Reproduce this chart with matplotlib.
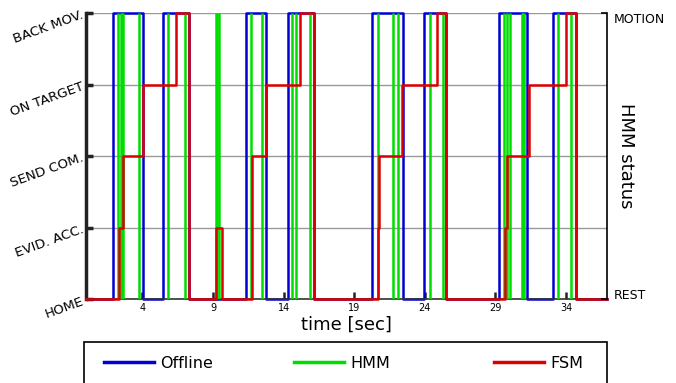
import matplotlib
matplotlib.use("Agg")
import matplotlib.pyplot as plt
from matplotlib.patches import Rectangle

# ---- data ----
state_labels = ["HOME", "EVID. ACC.", "SEND COM.", "ON TARGET", "BACK MOV."]
hmm_labels = ["REST", "MOTION"]
xticks = [4, 9, 14, 19, 24, 29, 34]
series_names = ["Offline", "HMM", "FSM"]

# Offline: motion intervals (start, end) in seconds
offline_on = [1.9, 5.44, 11.35, 14.31, 20.27, 23.94, 29.27, 33.06]
offline_off = [4.02, 7.28, 12.77, 16.14, 22.44, 25.49, 31.21, 34.69]

# HMM: instants of detected switches (drawn as vertical strokes)
hmm_t = [2.25, 2.45, 2.55, 2.65, 3.72, 5.8, 6.98, 9.2, 9.3, 9.4,
         11.71, 12.47, 14.62, 14.9, 15.84, 20.65, 21.75, 22.13,
         24.35, 25.25, 29.63, 29.8, 30.03, 30.85, 30.95, 31.05,
         33.45, 34.35]

# FSM: step changes (time, new level)
fsm_t = [0.0, 2.32, 2.65, 4.02, 6.35, 7.28, 9.22, 9.65, 11.75, 12.74,
         15.18, 16.14, 20.69, 20.76, 22.35, 24.85, 25.49, 29.67, 29.79,
         31.38, 34.0, 34.69, 36.9]
fsm_lvl = [0, 1, 2, 3, 4, 0, 1, 0, 2, 3,
           4, 0, 1, 2, 3, 4, 0, 1, 2,
           3, 4, 0, 0]

x_end = 36.9

# ---- figure ----
W, H = 676, 383
fig = plt.figure(figsize=(W / 100, H / 100), dpi=100)
ax = fig.add_axes([86 / W, 1 - 299 / H, (607 - 86) / W, (299 - 13) / H])

blue = "#0000d2"
green = "#00dd00"
red = "#dd0000"

# build offline step series
bx, by = [0.0], [0]
for a, b in zip(offline_on, offline_off):
    bx += [a, b]
    by += [4, 0]
bx.append(x_end)
by.append(0)

for lvl in range(5):
    ax.axhline(lvl, color="#999999", lw=1.0, zorder=0)

ln_off, = ax.plot(bx, by, drawstyle="steps-post", color=blue, lw=1.8,
                  clip_on=False, zorder=2)
ax.vlines(hmm_t, 0, 4, color=green, lw=1.8, zorder=3)
ln_hmm, = ax.plot([], [], color=green, lw=1.8)
ln_fsm, = ax.plot(fsm_t, fsm_lvl, drawstyle="steps-post", color=red, lw=1.8,
                  clip_on=False, zorder=4)

ax.set_xlim(0, x_end)
ax.set_ylim(0, 4)
ax.set_xticks(xticks)
ax.set_xticklabels([str(t) for t in xticks], fontsize=7)
ax.tick_params(axis="x", direction="in", length=5, width=1.8, color="#222222",
               pad=3)
ax.set_yticks(range(5))
ax.set_yticklabels(state_labels, rotation=20, fontsize=9.6, ha="right",
                   va="center_baseline", rotation_mode="anchor")
ax.tick_params(axis="y", direction="in", length=5, width=2.5, color="#222222",
               pad=2.5)

ax.spines["top"].set_visible(False)
ax.spines["right"].set_visible(False)
ax.spines["left"].set_linewidth(2.5)
ax.spines["left"].set_color("#222222")
ax.spines["bottom"].set_linewidth(1.2)
ax.spines["bottom"].set_color("#333333")

ax.set_xlabel("time [sec]", fontsize=13, labelpad=2)

ax2 = ax.twinx()
ax2.set_ylim(0, 1)
ax2.set_yticks([0, 1])
ax2.set_yticklabels(hmm_labels, fontsize=9)
tl = ax2.get_yticklabels()
tl[0].set_va("baseline")
tl[1].set_va("top")
ax2.tick_params(axis="y", direction="in", length=4, width=1.2, pad=5)
ax2.spines["top"].set_visible(False)
ax2.spines["left"].set_visible(False)
ax2.spines["bottom"].set_visible(False)
ax2.spines["right"].set_linewidth(1.2)
ax2.set_ylabel("HMM status", fontsize=13, rotation=270, labelpad=-22)

# legend frame drawn separately (reference box runs off the bottom edge)
fig.patches.append(Rectangle((84 / W, -2 / H), (607 - 84) / W, (383 - 342 + 2) / H,
                             transform=fig.transFigure, fill=False,
                             edgecolor="black", lw=1.2))
handles = [ln_off, ln_hmm, ln_fsm]
x_starts = [104, 294, 494]
for hnd, name, xs in zip(handles, series_names, x_starts):
    lg = fig.legend([hnd], [name], loc="center left",
                    bbox_to_anchor=(xs / W, 1 - 363 / H),
                    fontsize=11.5, frameon=False, borderpad=0,
                    handlelength=3.1, handletextpad=0.4, borderaxespad=0)
    for h in lg.legend_handles:
        h.set_linewidth(2.5)

fig.savefig("out.png", dpi=100)
